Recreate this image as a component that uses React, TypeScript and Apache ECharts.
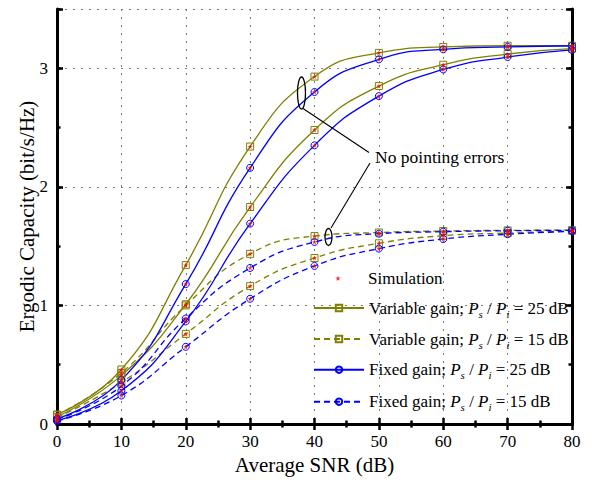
import React, { useEffect, useRef } from "react";
import * as echarts from "echarts";

// SNR values (dB)
const snr = [0, 10, 20, 30, 40, 50, 60, 70, 80];
// Ps/Pi = 25 dB, no pointing errors
const vg25NoPE = [0.08, 0.46, 1.34, 2.34, 2.93, 3.13, 3.18, 3.19, 3.19];
const fg25NoPE = [0.045, 0.37, 1.18, 2.16, 2.8, 3.075, 3.16, 3.18, 3.19];
// Ps/Pi = 25 dB, with pointing errors
const vg25PE = [0.06, 0.41, 1.01, 1.83, 2.48, 2.85, 3.03, 3.12, 3.165];
const fg25PE = [0.03, 0.28, 0.865, 1.69, 2.35, 2.765, 2.99, 3.095, 3.155];
// Ps/Pi = 15 dB, no pointing errors
const vg15NoPE = [0.075, 0.43, 1.0, 1.435, 1.585, 1.615, 1.628, 1.633, 1.635];
const fg15NoPE = [0.04, 0.32, 0.89, 1.316, 1.535, 1.605, 1.622, 1.63, 1.633];
// Ps/Pi = 15 dB, with pointing errors
const vg15PE = [0.055, 0.35, 0.76, 1.163, 1.4, 1.524, 1.588, 1.61, 1.63];
const fg15PE = [0.025, 0.24, 0.651, 1.056, 1.333, 1.479, 1.56, 1.6, 1.625];

const xTicks = [0, 10, 20, 30, 40, 50, 60, 70, 80];
const yTickLabels = [0, 1, 2, 3];

const OLIVE = "#808000";
const BLUE = "#0000ff";
const FONT = "'Liberation Serif', 'Times New Roman', serif";
const STAR_LEGEND =
  "path://M-14,-14 M14,14 M0,-10 L2.35,-3.24 L9.51,-3.09 L3.8,1.24 L5.88,8.09 L0,4 L-5.88,8.09 L-3.8,1.24 L-9.51,-3.09 L-2.35,-3.24 Z";
const STAR_PLAIN =
  "path://M0,-10 L2.35,-3.24 L9.51,-3.09 L3.8,1.24 L5.88,8.09 L0,4 L-5.88,8.09 L-3.8,1.24 L-9.51,-3.09 L-2.35,-3.24 Z";

const N_SIM = "Simulation";
const N_VG25 = "Variable gain; Ps/Pi = 25 dB";
const N_VG15 = "Variable gain; Ps/Pi = 15 dB";
const N_FG25 = "Fixed gain; Ps/Pi = 25 dB";
const N_FG15 = "Fixed gain; Ps/Pi = 15 dB";

const legendText: Record<string, string> = {
  [N_SIM]: "{n|Simulation}",
  [N_VG25]: "{n|Variable gain; }{i|P}{s|s}{n| / }{i|P}{s|i}{n| = 25 dB}",
  [N_VG15]: "{n|Variable gain; }{i|P}{s|s}{n| / }{i|P}{s|i}{n| = 15 dB}",
  [N_FG25]: "{n|Fixed gain; }{i|P}{s|s}{n| / }{i|P}{s|i}{n| = 25 dB}",
  [N_FG15]: "{n|Fixed gain; }{i|P}{s|s}{n| / }{i|P}{s|i}{n| = 15 dB}",
};

const pairs = (ys: number[]) => snr.map((x, i) => [x, ys[i]]);

function lineSeries(name: string, ys: number[], color: string, dashed: boolean, symbol: string) {
  return {
    name,
    type: "line",
    data: pairs(ys),
    smooth: 0.5,
    symbol,
    symbolSize: 7,
    showSymbol: true,
    z: 2,
    lineStyle: { color, width: 1.3, type: dashed ? [6, 4] : "solid" },
    itemStyle: { color: "rgba(255,255,255,0)", borderColor: color, borderWidth: 1 },
  };
}

export default function App() {
  const ref = useRef<HTMLDivElement>(null);
  useEffect(() => {
    if (!ref.current) return;
    const chart = echarts.init(ref.current, null, { renderer: "svg" });
    const allCurves = [vg25NoPE, fg25NoPE, vg25PE, fg25PE, vg15NoPE, fg15NoPE, vg15PE, fg15PE];
    const simData: number[][] = [];
    allCurves.forEach((c) => pairs(c).forEach((p) => simData.push(p)));

    const axisLine = { show: true, lineStyle: { color: "#000", width: 3 } };
    const gridLine = { show: true, lineStyle: { color: "#7a7a7a", width: 1, type: [2, 6] } };
    const labelStyle = { fontFamily: FONT, fontSize: 17, color: "#000" };

    const xCommon = {
      type: "value",
      min: 0,
      max: 80,
      interval: 10,
      axisLine,
      axisTick: { show: true, inside: true, length: 6, lineStyle: { color: "#000", width: 2.5 } },
      minorTick: { show: true, splitNumber: 2, length: 3.5, lineStyle: { color: "#000", width: 2.5 } },
    };
    const yMajor = {
      type: "value",
      min: 0,
      max: 3.5,
      interval: 1,
      axisLine,
      axisTick: { show: true, inside: true, length: 6, lineStyle: { color: "#000", width: 2.5 } },
    };
    const yMinor = {
      type: "value",
      min: 0,
      max: 3.5,
      interval: 0.5,
      axisLine: { show: false },
      axisLabel: { show: false },
      splitLine: { show: false },
      axisTick: { show: true, inside: true, length: 3.5, lineStyle: { color: "#000", width: 2.5 } },
    };

    const richBase = { fontFamily: FONT, fontSize: 17, color: "#000", lineHeight: 22 };
    const legendRow = (name: string, left: number, top: number, extra: any = {}) => ({
      orient: "vertical",
      left,
      top,
      padding: 0,
      itemWidth: 50,
      itemHeight: 8,
      selectedMode: false,
      data: [{ name, ...extra }],
      formatter: (n: string) => legendText[n] || n,
      textStyle: {
        fontFamily: FONT,
        fontSize: 17,
        color: "#000",
        rich: {
          n: { ...richBase },
          i: { ...richBase, fontStyle: "italic" },
          s: { ...richBase, fontSize: 11, fontStyle: "italic", verticalAlign: "bottom" },
        },
      },
    });

    chart.setOption({
      animation: false,
      backgroundColor: "#fff",
      textStyle: { fontFamily: FONT },
      grid: { left: 57, right: 23, top: 9, bottom: 61, containLabel: false },
      xAxis: [
        {
          ...xCommon,
          position: "bottom",
          name: "Average SNR (dB)",
          nameLocation: "middle",
          nameGap: 30,
          nameMoveOverlap: false,
          nameTextStyle: { fontFamily: FONT, fontSize: 21, color: "#000" },
          axisLabel: {
            ...labelStyle,
            margin: 9,
            formatter: (v: number) => (xTicks.includes(v) ? String(v) : ""),
          },
          splitLine: gridLine,
        },
        {
          ...xCommon,
          position: "top",
          axisLabel: { show: false },
          splitLine: { show: false },
        },
      ],
      yAxis: [
        {
          ...yMajor,
          position: "left",
          name: "Ergodic Capacity (bit/s/Hz)",
          nameLocation: "middle",
          nameGap: 20,
          nameMoveOverlap: false,
          nameTextStyle: { fontFamily: FONT, fontSize: 21, color: "#000" },
          axisLabel: {
            ...labelStyle,
            margin: 9,
            formatter: (v: number) => (yTickLabels.includes(v) ? String(v) : ""),
          },
          splitLine: gridLine,
        },
        { ...yMinor, position: "left", offset: 0 },
        {
          ...yMajor,
          position: "right",
          offset: 0,
          axisLabel: { show: false },
          splitLine: { show: false },
        },
        { ...yMinor, position: "right", offset: 0 },
      ],
      legend: [
        legendRow(N_SIM, 334, 270, { icon: STAR_LEGEND, itemStyle: { color: "#ff0000" } }),
        legendRow(N_VG25, 313, 299.5),
        legendRow(N_VG15, 313, 330.5),
        legendRow(N_FG25, 313, 361.2),
        legendRow(N_FG15, 313, 393.2),
      ],
      series: [
        lineSeries(N_VG25, vg25NoPE, OLIVE, false, "rect"),
        lineSeries(N_VG25, vg25PE, OLIVE, false, "rect"),
        lineSeries(N_VG15, vg15NoPE, OLIVE, true, "rect"),
        lineSeries(N_VG15, vg15PE, OLIVE, true, "rect"),
        lineSeries(N_FG25, fg25NoPE, BLUE, false, "circle"),
        lineSeries(N_FG25, fg25PE, BLUE, false, "circle"),
        lineSeries(N_FG15, fg15NoPE, BLUE, true, "circle"),
        lineSeries(N_FG15, fg15PE, BLUE, true, "circle"),
        {
          name: N_SIM,
          type: "scatter",
          data: simData,
          symbol: STAR_PLAIN,
          symbolSize: 5,
          z: 5,
          itemStyle: { color: "#ff0000" },
        },
      ],
      graphic: [
        {
          type: "ellipse",
          shape: { cx: 301.5, cy: 93, rx: 4, ry: 16 },
          style: { fill: "none", stroke: "#000", lineWidth: 1.3 },
          z: 10,
        },
        {
          type: "ellipse",
          shape: { cx: 328.5, cy: 237, rx: 3.5, ry: 8.5 },
          style: { fill: "none", stroke: "#000", lineWidth: 1.3 },
          z: 10,
        },
        {
          type: "line",
          shape: { x1: 303, y1: 108.5, x2: 369, y2: 152.5 },
          style: { stroke: "#000", lineWidth: 1.1 },
          z: 10,
        },
        {
          type: "line",
          shape: { x1: 370, y1: 163, x2: 331, y2: 228 },
          style: { stroke: "#000", lineWidth: 1.1 },
          z: 10,
        },
        {
          type: "text",
          x: 375,
          y: 157,
          style: {
            text: "No pointing errors",
            fontFamily: FONT,
            fontSize: 17.5,
            fill: "#000",
            verticalAlign: "middle",
            align: "left",
          },
          z: 10,
        },
      ],
    });
    return () => chart.dispose();
  }, []);
  return (
    <div
      ref={ref}
      style={{ position: "fixed", left: 0, top: 0, width: 595, height: 485, background: "#fff" }}
    />
  );
}
